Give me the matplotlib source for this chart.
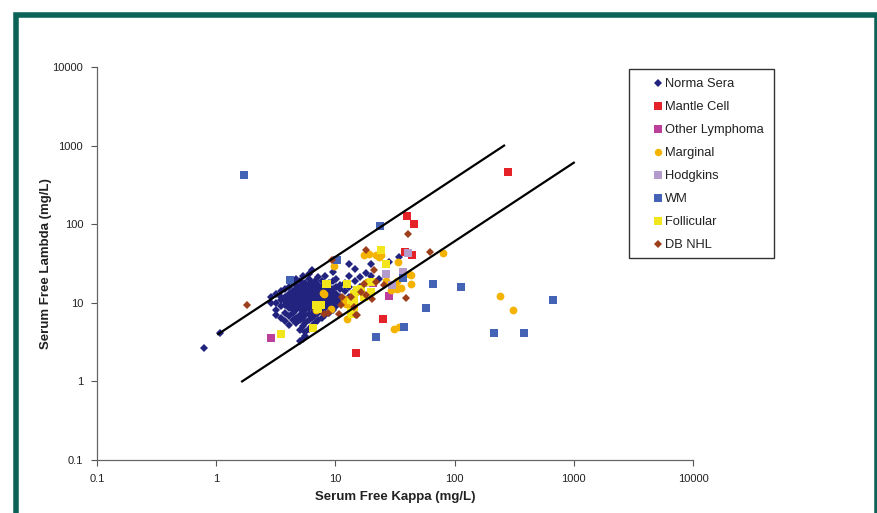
import matplotlib
matplotlib.use("Agg")
import matplotlib.pyplot as plt
from matplotlib.lines import Line2D
from matplotlib.patches import Rectangle

plt.rcParams['font.family'] = ['Liberation Sans', 'DejaVu Sans']

# ---- data (mg/L) ----
normal_kappa = [
    0.79, 1.08,
    2.9, 2.9,
    3.2, 3.2, 3.2, 3.2,
    3.5, 3.5, 3.5, 3.5, 3.5,
    3.8, 3.8, 3.8, 3.8, 3.8, 3.8,
    4.1, 4.1, 4.1, 4.1, 4.1, 4.1, 4.1, 4.1,
    4.4, 4.4, 4.4, 4.4, 4.4, 4.4, 4.4, 4.4, 4.4,
    4.7, 4.7, 4.7, 4.7, 4.7, 4.7, 4.7, 4.7, 4.7, 4.7,
    5.0, 5.0, 5.0, 5.0, 5.0, 5.0, 5.0, 5.0, 5.0, 5.0, 5.0,
    5.3, 5.3, 5.3, 5.3, 5.3, 5.3, 5.3, 5.3, 5.3, 5.3, 5.3,
    5.6, 5.6, 5.6, 5.6, 5.6, 5.6, 5.6, 5.6, 5.6, 5.6, 5.6,
    6.0, 6.0, 6.0, 6.0, 6.0, 6.0, 6.0, 6.0, 6.0, 6.0, 6.0,
    6.4, 6.4, 6.4, 6.4, 6.4, 6.4, 6.4, 6.4, 6.4, 6.4,
    6.8, 6.8, 6.8, 6.8, 6.8, 6.8, 6.8, 6.8, 6.8,
    7.2, 7.2, 7.2, 7.2, 7.2, 7.2, 7.2, 7.2, 7.2,
    7.7, 7.7, 7.7, 7.7, 7.7, 7.7, 7.7, 7.7,
    8.2, 8.2, 8.2, 8.2, 8.2, 8.2, 8.2, 8.2,
    8.8, 8.8, 8.8, 8.8, 8.8, 8.8, 8.8,
    9.5, 9.5, 9.5, 9.5, 9.5, 9.5, 9.5,
    10.2, 10.2, 10.2, 10.2, 10.2,
    11, 11, 11, 11,
    12, 12, 12,
    13, 13, 13, 13,
    14.5, 14.5, 14.5,
    16, 16,
    18, 18,
    20, 20,
    23, 28, 34,
]
normal_lambda = [
    2.63, 4.1,
    10, 12,
    7, 8, 10, 13,
    6.5, 9, 11, 12, 14,
    5.8, 7.5, 9.5, 10.5, 12, 15,
    5.2, 6.8, 8.5, 9, 10, 11.5, 13, 16,
    6, 7.5, 8.2, 9, 10.3, 11, 12.5, 14, 18,
    5.5, 6.5, 8, 9.5, 10.8, 12, 13.5, 15, 17, 20,
    3.3, 4.5, 6, 7, 8.5, 10, 11, 12.5, 14, 16, 19,
    3.5, 5, 6.5, 7.8, 9, 10.5, 12, 13, 15, 17.5, 22,
    3.8, 4.2, 5.5, 7, 8, 9.5, 11, 12, 14, 16, 18,
    4.6, 6, 7.2, 8.5, 10, 11.5, 13, 14.5, 17, 20, 23,
    5, 6.5, 7.5, 9, 10.5, 12, 13.5, 15.5, 18, 26,
    5.5, 7, 8.2, 9.5, 11, 12.5, 14, 16, 19,
    6, 7.5, 9, 10, 11.5, 13, 15, 17, 21,
    6.5, 8, 9.5, 11, 12, 14, 16, 19,
    7, 8.5, 10, 11.5, 13, 15, 17, 22,
    7.5, 9, 11, 12.5, 14, 16, 18,
    8, 10, 12, 13.5, 15, 19, 25,
    9, 11, 13, 16, 20,
    10, 12, 15, 17,
    11, 14, 18,
    12, 16, 22, 31,
    14, 19, 27,
    16, 21,
    18, 24,
    31, 22,
    20, 33, 38,
]

mantle_kappa = [280, 40, 46, 38, 44, 25, 15]
mantle_lambda = [460, 129, 101, 44, 41, 6.3, 2.27]

other_kappa = [2.9, 28.3, 20.7]
other_lambda = [3.55, 12.1, 17.7]

marginal_kappa = [240, 310, 80, 33.5, 33, 43, 43, 35.5, 32.3, 31.2, 21.9, 19.2,
                  23.3, 33, 41.5, 9.7, 8.05, 12.2, 14.9, 11.8, 26.6, 29.1, 17.4,
                  9.2, 6.9, 18.5, 13.5, 12.6, 34, 7.8, 24]
marginal_lambda = [12.1, 8.0, 43.4, 32.9, 19.2, 22.3, 17.5, 15.6, 15.6, 4.68, 40, 42,
                   38, 14.8, 23.4, 29.8, 13, 9.7, 13.7, 11.3, 19.2, 14.4, 40,
                   8.4, 8.0, 18.4, 9.3, 6.3, 4.9, 13.2, 40]

hodgkins_kappa = [40.3, 37.2, 26.6, 30]
hodgkins_lambda = [43, 24.6, 23.4, 16.6]

wm_kappa = [1.7, 23.5, 4.2, 10.3, 66.5, 113, 58, 37.8, 21.9, 215, 384, 671, 37]
wm_lambda = [420, 94, 19.6, 35.3, 17.5, 15.9, 8.6, 4.9, 3.66, 4.16, 4.07, 10.7, 20.6]

follicular_kappa = [3.5, 6.5, 6.9, 8.55, 12.6, 14.4, 17.4, 13.5, 14.4, 7.5, 7.1,
                    24, 26.6, 16.4, 19.8, 15.3, 19.8, 13.5, 14.4, 13.9, 8.3]
follicular_lambda = [3.96, 4.8, 9.3, 17.5, 17.5, 13, 11.8, 7.6, 10.2, 9.3, 8.4,
                     46.4, 31.4, 15, 13.7, 14.4, 18.4, 10.7, 8.8, 7.2, 17.5]

dbnhl_kappa = [1.81, 40.3, 62.4, 39, 9.4, 18, 21.1, 21.9, 18, 16.4, 17.4, 25.6,
               13.5, 14.4, 11.4, 11.1, 8.6, 10.7, 14.9, 8.05, 15.3, 20.4]
dbnhl_lambda = [9.3, 74, 44.2, 11.6, 34.6, 46.4, 25.8, 18.4, 12.4, 13.7, 17.5, 16.6,
                11.8, 8.8, 11.8, 9.3, 7.4, 7.3, 6.9, 7.3, 6.9, 11.3]

# reference range lines (kappa/lambda ratio 0.26 and 1.65)
upper_kappa = [1.04, 260]
upper_lambda = [4, 1000]
lower_kappa = [1.65, 1000]
lower_lambda = [1, 606]

series = [
    ("Norma Sera", normal_kappa, normal_lambda, "D", "#22227f", 3.8),
    ("Mantle Cell", mantle_kappa, mantle_lambda, "s", "#e62229", 5.6),
    ("Other Lymphoma", other_kappa, other_lambda, "s", "#bd3f9c", 5.6),
    ("Marginal", marginal_kappa, marginal_lambda, "o", "#f4b301", 5.6),
    ("Hodgkins", hodgkins_kappa, hodgkins_lambda, "s", "#b39bcc", 5.6),
    ("WM", wm_kappa, wm_lambda, "s", "#4463b5", 5.6),
    ("Follicular", follicular_kappa, follicular_lambda, "s", "#f3e51b", 5.6),
    ("DB NHL", dbnhl_kappa, dbnhl_lambda, "D", "#9e3f1c", 4.0),
]

fig = plt.figure(figsize=(8.77, 5.13), dpi=100)
ax = fig.add_axes([97 / 877, 53 / 513, 596 / 877, 393 / 513])

for label, kx, ly, mk, col, ms in series:
    ax.plot(kx, ly, linestyle="none", marker=mk, color=col, markersize=ms,
            markeredgewidth=0, label=label)

ax.plot(upper_kappa, upper_lambda, color="black", lw=1.6)
ax.plot(lower_kappa, lower_lambda, color="black", lw=1.6)

ax.set_xscale("log")
ax.set_yscale("log")
ax.set_xlim(0.1, 10000)
ax.set_ylim(0.1, 10000)
ticks = [0.1, 1, 10, 100, 1000, 10000]
tick_labels = ["0.1", "1", "10", "100", "1000", "10000"]
ax.set_xticks(ticks)
ax.set_xticklabels(tick_labels)
ax.set_yticks(ticks)
ax.set_yticklabels(tick_labels)
ax.minorticks_off()
ax.tick_params(direction="out", length=4, width=0.8, color="#555555",
               labelsize=8, labelcolor="#222222", pad=6)
for side in ["top", "right"]:
    ax.spines[side].set_visible(False)
for side in ["left", "bottom"]:
    ax.spines[side].set_color("#666666")
    ax.spines[side].set_linewidth(0.9)

ax.set_xlabel("Serum Free Kappa (mg/L)", fontsize=9.5, fontweight="bold",
              color="#222222", labelpad=5)
ax.set_ylabel("Serum Free Lambda (mg/L)", fontsize=9.5, fontweight="bold",
              color="#222222", labelpad=0)

# legend
handles = [Line2D([], [], linestyle="none", marker=mk, color=col,
                  markersize=ms * 0.95, markeredgewidth=0)
           for _, _, _, mk, col, ms in series]
labels = [s[0] for s in series]
fig.legend(handles, labels, loc="upper left",
           bbox_to_anchor=(654 / 877, 1 - 78 / 513),
           bbox_transform=fig.transFigure, frameon=False, fontsize=9.3,
           handlelength=0.6, handletextpad=0.25, labelspacing=0.85,
           borderpad=0, borderaxespad=0, labelcolor="#222222")
fig.patches.append(Rectangle((629 / 877, 1 - 258 / 513), 145 / 877, 189 / 513,
                             transform=fig.transFigure, fill=False,
                             edgecolor="#333333", linewidth=1.0))

# outer teal frame
fig.patches.append(Rectangle((16.3 / 877, -0.1), (876.5 - 16.3) / 877,
                             (513 - 14.8) / 513 + 0.1,
                             transform=fig.transFigure, fill=False,
                             edgecolor="#0b6358", linewidth=4.0))

fig.savefig("out.png", dpi=100, facecolor="white")
